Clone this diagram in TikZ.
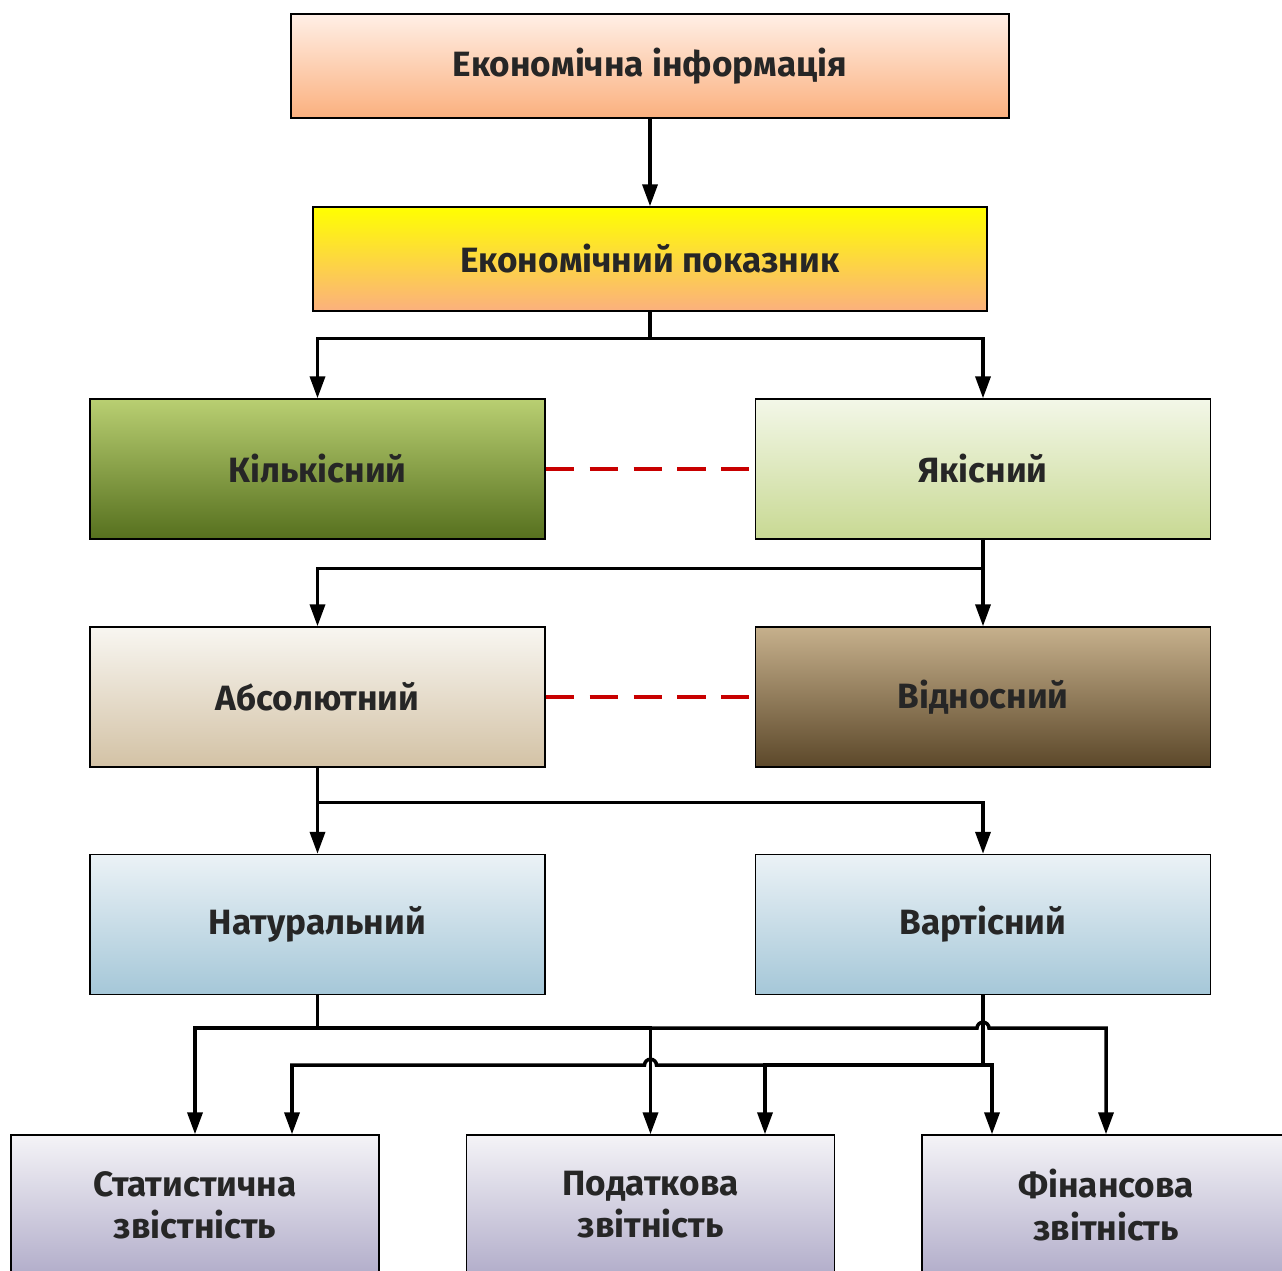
\documentclass[tikz,border=0pt]{standalone}
\usepackage{fontspec}
\setmainfont{Fira Sans}
\usetikzlibrary{arrows.meta,calc}

\definecolor{infotop}{HTML}{FFEFE6}
\definecolor{infobot}{HTML}{FBB07E}
\definecolor{indtop}{HTML}{FFFF00}
\definecolor{kiltop}{HTML}{B9CF72}
\definecolor{kilbot}{HTML}{56701E}
\definecolor{yaktop}{HTML}{F3F7E8}
\definecolor{yakbot}{HTML}{C8D993}
\definecolor{abstop}{HTML}{F8F6F1}
\definecolor{absbot}{HTML}{D3C2A5}
\definecolor{vidtop}{HTML}{C6B08C}
\definecolor{vidbot}{HTML}{5C482A}
\definecolor{bluetop}{HTML}{EBF2F6}
\definecolor{bluebot}{HTML}{A5C7D8}
\definecolor{reptop}{HTML}{F4F3F7}
\definecolor{repbot}{HTML}{B2ADCA}
\definecolor{linkred}{HTML}{C80000}

\tikzset{
  box/.style={draw=black, line width=0.8pt, minimum width=9.1cm, minimum height=2.8cm,
    align=center, text=black!85, font=\fontsize{20}{24}\selectfont\bfseries},
  repbox/.style={box, minimum width=7.36cm, top color=reptop, bottom color=repbot},
  ln/.style={line width=2pt},
  arr/.style={ln, -{Triangle[length=0.44cm,width=0.3cm]}},
  link/.style={line width=2.2pt, draw=linkred, dash pattern=on 16pt off 9pt},
}

\begin{document}
\begin{tikzpicture}[x=0.02cm, y=-0.02cm]
    \clip (0,0) rectangle (1282,1271);
    % top levels
    \node[box, minimum width=14.36cm, minimum height=2.08cm, top color=infotop, bottom color=infobot] (info) at (650,66) {Економічна інформація};
    \node[box, minimum width=13.48cm, minimum height=2.08cm, top color=indtop, bottom color=infobot] (indic) at (650,259) {Економічний показник};
    \node[box, top color=kiltop, bottom color=kilbot] (kilk) at (317.5,469) {Кількісний};
    \node[box, top color=yaktop, bottom color=yakbot] (yak) at (983,469) {Якісний};
    \node[box, top color=abstop, bottom color=absbot] (abs) at (317.5,697) {Абсолютний};
    \node[box, top color=vidtop, bottom color=vidbot] (vidn) at (983,697) {Відносний};
    \node[box, top color=bluetop, bottom color=bluebot] (nat) at (317.5,924.5) {Натуральний};
    \node[box, top color=bluetop, bottom color=bluebot] (vart) at (983,924.5) {Вартісний};
    % reports
    \node[repbox] (stat) at (195,1205) {Статистична\\звістність};
    \node[repbox] (pod) at (650.5,1205) {Податкова\\звітність};
    \node[repbox] (fin) at (1106,1205) {Фінансова\\звітність};

    \draw[arr] (info) -- (indic);
    \draw[arr] (indic.south) ++(0,27) -| (kilk.north);
    \draw[ln] (indic.south) -- ++(0,27);
    \draw[arr] (indic.south) ++(0,27) -| (yak.north);
    \draw[link] (kilk) -- (yak);

    \draw[arr] (yak) -- (vidn);
    \draw[arr] (yak.south) ++(0,29) -| (abs.north);
    \draw[link] (abs) -- (vidn);

    \draw[arr] (abs) -- (nat);
    \draw[arr] (abs.south) ++(0,35) -| (vart.north);

    % two buses, each hops over the other one
    \coordinate (busA) at ($(nat.south)+(0,33)$);
    \coordinate (busB) at ($(vart.south)+(0,70)$);
    \draw[ln] (nat.south) -- (busA);
    \draw[ln] (vart.south) -- (busB);
    \draw[arr] (busA) -| (stat.north);
    \draw[arr] (busA) -| (pod.north);
    \draw[arr] (busA) -- ($(busA -| vart.south)+(-6,0)$) arc (180:0:0.12cm) -| (fin.north);
    \draw[arr] (busB) -- ($(busB -| pod.north)+(6,0)$) arc (0:180:0.12cm) -| ($(stat.north)+(97,0)$);
    \draw[arr] (busB) -| ($(pod.north)+(114.5,0)$);
    \draw[arr] (busB) -| ($(fin.north)+(-114,0)$);
\end{tikzpicture}
\end{document}
